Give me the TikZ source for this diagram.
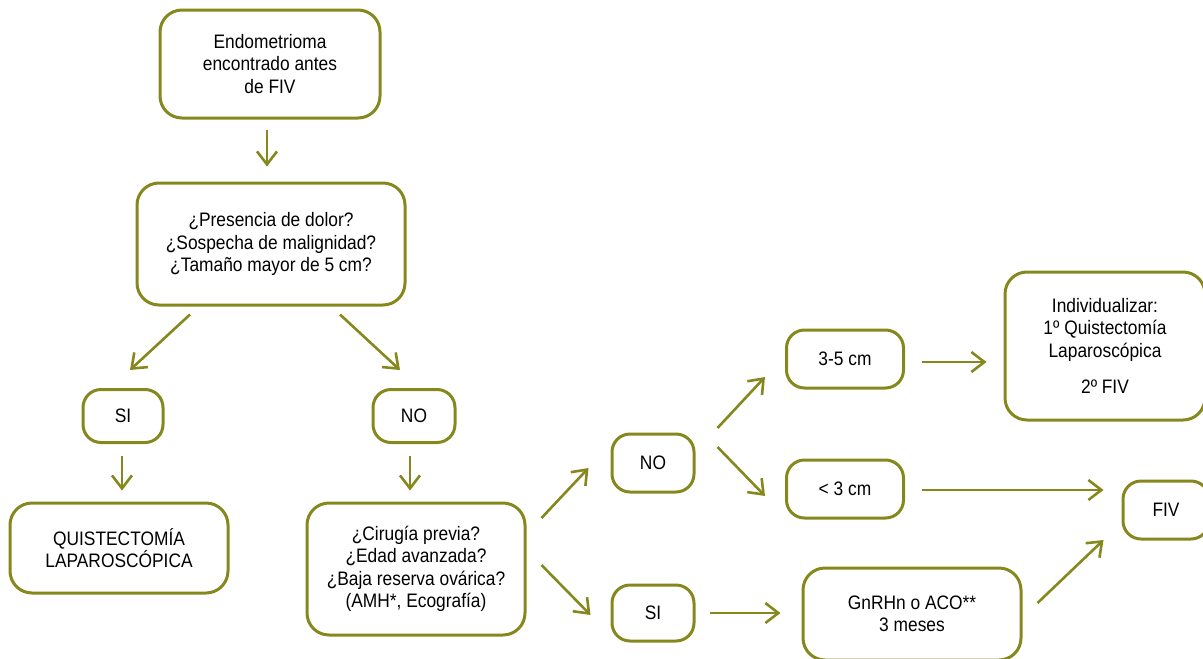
\documentclass[tikz,border=0pt]{standalone}
\usepackage{fontspec}
\setmainfont[FakeStretch=0.89]{Liberation Sans}
\usepackage{tikz}
\usetikzlibrary{arrows.meta}
\definecolor{oliva}{RGB}{134,136,30}

\begin{document}
\begin{tikzpicture}[x=1pt,y=-1pt,
    caja/.style={draw=oliva, line width=3pt, rounded corners=22pt, align=center, inner sep=0pt, font=\fontsize{19.5}{22.5}\selectfont},
    flecha/.style={draw=oliva, line width=2.6pt, -{Straight Barb[length=13pt,width=20pt]}}]
    \clip (0,0) rectangle (1203,659);
    \node[caja, minimum width=220pt, minimum height=108pt] (inicio) at (270,64) {Endometrioma\\encontrado antes\\de FIV};
    \node[caja, minimum width=268pt, minimum height=122pt] (preguntas) at (271,244) {¿Presencia de dolor?\\¿Sospecha de malignidad?\\¿Tamaño mayor de 5 cm?};
    \node[caja, minimum width=80pt, minimum height=53pt, rounded corners=18pt] (si1) at (123,416) {SI};
    \node[caja, minimum width=82pt, minimum height=53pt, rounded corners=18pt] (no1) at (414,416) {NO};
    \node[caja, minimum width=218pt, minimum height=90pt] (quiste) at (119,548) {QUISTECTOMÍA\\LAPAROSCÓPICA};
    \node[caja, minimum width=218pt, minimum height=132pt] (preguntas2) at (416,569) {¿Cirugía previa?\\¿Edad avanzada?\\¿Baja reserva ovárica?\\(AMH*, Ecografía)};
    \node[caja, minimum width=82pt, minimum height=58pt, rounded corners=18pt] (no2) at (653,463) {NO};
    \node[caja, minimum width=82pt, minimum height=56pt, rounded corners=18pt] (si2) at (653,613) {SI};
    \node[caja, minimum width=117pt, minimum height=58pt, rounded corners=18pt] (tam35) at (845,359) {3-5 cm};
    \node[caja, minimum width=117pt, minimum height=58pt, rounded corners=18pt] (tam3) at (845,489) {< 3 cm};
    \node[caja, minimum width=200pt, minimum height=148pt] (individ) at (1105,346) {Individualizar:\\1º Quistectomía\\Laparoscópica\\[14pt]2º FIV};
    \node[caja, minimum width=86pt, minimum height=58pt, rounded corners=18pt] (fiv) at (1166,510) {FIV};
    \node[caja, minimum width=218pt, minimum height=92pt] (gnrh) at (912,614) {GnRHn o ACO**\\3 meses};

    \draw[flecha] ([shift={(-3,10)}]inicio.south) -- ([shift={(-4,-15)}]preguntas.north);
    \draw[flecha] ([shift={(-81,8)}]preguntas.south) -- ([shift={(7,-18)}]si1.north);
    \draw[flecha] ([shift={(69,8)}]preguntas.south) -- ([shift={(-14,-18)}]no1.north);
    \draw[flecha] ([shift={(-1,12)}]si1.south) -- ([shift={(3,-11)}]quiste.north);
    \draw[flecha] ([shift={(-4,12)}]no1.south) -- ([shift={(-6,-11)}]preguntas2.north);
    \draw[flecha] ([shift={(15,-51)}]preguntas2.east) -- ([shift={(-22,5)}]no2.west);
    \draw[flecha] ([shift={(15,-4)}]preguntas2.east) -- ([shift={(-20,2)}]si2.west);
    \draw[flecha] ([shift={(22,-35)}]no2.east) -- ([shift={(-20,18)}]tam35.west);
    \draw[flecha] ([shift={(22,-16)}]no2.east) -- ([shift={(-20,7)}]tam3.west);
    \draw[flecha] ([shift={(17,3)}]tam35.east) -- ([shift={(-17,16)}]individ.west);
    \draw[flecha] ([shift={(17,1)}]tam3.east) -- ([shift={(-18,-20)}]fiv.west);
    \draw[flecha] ([shift={(14,0)}]si2.east) -- ([shift={(-21,-1)}]gnrh.west);
    \draw[flecha] ([shift={(15,-11)}]gnrh.east) -- ([shift={(-18,30)}]fiv.west);
\end{tikzpicture}
\end{document}
